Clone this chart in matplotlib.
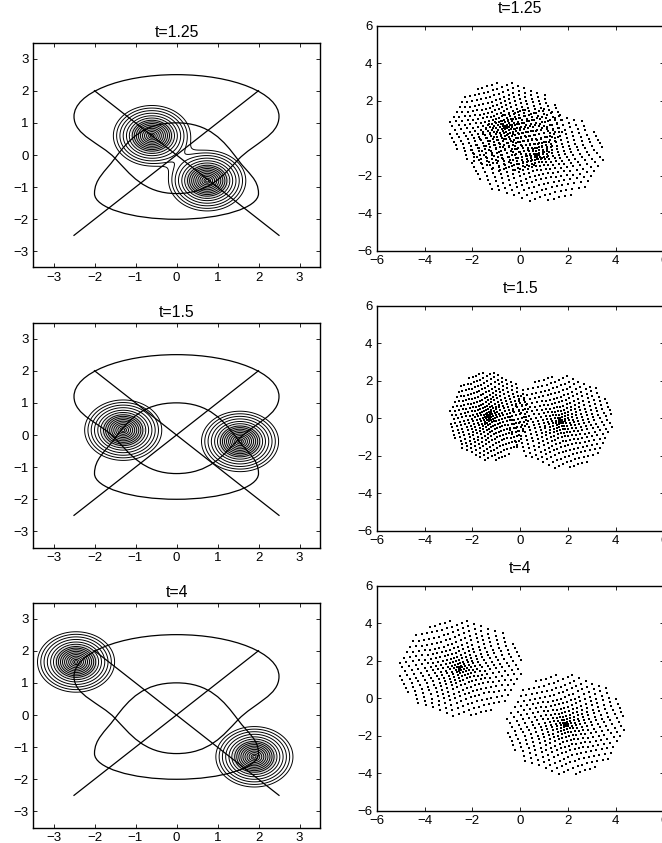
import numpy as np
import matplotlib.pyplot as plt
from matplotlib.path import Path
from matplotlib.patches import PathPatch

plt.rcParams['font.family'] = ['Liberation Sans', 'DejaVu Sans']
plt.rcParams['font.size'] = 9.5

# ---- data ----
titles = ['t=1.25', 't=1.5', 't=4']

# centres of the two packets (left column)
blob1_centers = [(-0.6, 0.6), (-1.3, 0.15), (-2.45, 1.65)]
blob2_centers = [(0.75, -0.8), (1.55, -0.2), (1.9, -1.3)]
blob_width = 0.42
# radii of the open contour rings, the grey core and the dense inner rings
outer_radii = [0.94, 0.86, 0.78, 0.70, 0.62, 0.55]
inner_radii = [0.48, 0.43, 0.38, 0.33, 0.28, 0.23, 0.18, 0.13, 0.08, 0.04]
core_radius = 0.51

# straight paths
line_a_x = [-2.5, 2.0]
line_a_y = [-2.5, 2.0]
line_b_x = [-2.0, 2.5]
line_b_y = [2.0, -2.5]

# upper closed orbit (bezier vertices): top arc, right side, dip to (0,-1.2), left side
upper_orbit = [(-2.5, 1.2),
               (-2.5, 1.92), (-1.38, 2.5), (0.0, 2.5),
               (1.38, 2.5), (2.5, 1.92), (2.5, 1.2),
               (2.5, 0.6), (1.9, 0.38), (1.5, -0.15),
               (1.14, -0.63), (0.8, -1.2), (0.0, -1.2),
               (-0.8, -1.2), (-1.14, -0.58), (-1.5, -0.1),
               (-1.86, 0.38), (-2.5, 0.6), (-2.5, 1.2)]
# lower closed orbit: bottom arc, right side, hump to (0,1.0), left side
lower_orbit = [(-2.0, -1.2),
               (-2.0, -1.64), (-1.1, -2.0), (0.0, -2.0),
               (1.1, -2.0), (2.0, -1.64), (2.0, -1.2),
               (2.0, -0.75), (1.75, -0.58), (1.5, -0.15),
               (1.15, 0.45), (0.8, 1.0), (0.0, 1.0),
               (-0.8, 1.0), (-1.15, 0.5), (-1.5, -0.1),
               (-1.75, -0.53), (-2.0, -0.75), (-2.0, -1.2)]

# particle clouds (right column): centre x, centre y, x extent, y extent, swirl
cloud1 = [(-0.6, 0.6, 2.3, 2.3, 0.25), (-1.3, 0.1, 1.6, 2.3, 0.2), (-2.5, 1.6, 2.5, 2.5, 0.15)]
cloud2 = [(0.7, -0.9, 2.7, 2.4, -0.25), (1.7, -0.2, 2.1, 2.4, -0.2), (1.9, -1.4, 2.4, 2.6, -0.15)]


def packet(X, Y, c):
    return np.exp(-((X - c[0]) ** 2 + (Y - c[1]) ** 2) / (2 * blob_width ** 2))


def level(r):
    return np.exp(-np.asarray(r) ** 2 / (2 * blob_width ** 2))


def lattice_cloud(cx, cy, rx, ry, swirl, n=23):
    u = np.linspace(-1, 1, n)
    U, V = np.meshgrid(u, u)
    rho = np.hypot(U, V)
    keep = rho <= 1.02
    U, V, rho = U[keep], V[keep], rho[keep]
    ang = np.arctan2(V, U) + swirl * (1 - rho) + 0.35
    r = rho ** 1.4
    return cx + rx * r * np.cos(ang), cy + ry * r * np.sin(ang)


def bezier_path(verts):
    return Path(verts, [Path.MOVETO] + [Path.CURVE4] * (len(verts) - 1))


def style(ax):
    ax.tick_params(direction='in', top=True, right=True, length=3, width=0.6, pad=3)
    for s in ax.spines.values():
        s.set_linewidth(1.0)


fig = plt.figure(figsize=(6.62, 8.43), dpi=100)
W, H = 662.0, 843.0

g = np.linspace(-3.5, 3.5, 600)
X, Y = np.meshgrid(g, g)
levels = sorted(level(outer_radii + inner_radii))

for i in range(3):
    # left column
    top = 42.5 + 280 * i
    ax = fig.add_axes([33 / W, 1 - (top + 225) / H, 287 / W, 225 / H])
    Z = packet(X, Y, blob1_centers[i]) + packet(X, Y, blob2_centers[i])
    ax.contourf(X, Y, Z, levels=[level(core_radius), 10], colors=['0.86'])
    ax.contour(X, Y, Z, levels=levels, colors='k', linewidths=0.7)
    ax.plot(line_a_x, line_a_y, 'k-', lw=0.9)
    ax.plot(line_b_x, line_b_y, 'k-', lw=0.9)
    for orbit in (upper_orbit, lower_orbit):
        ax.add_patch(PathPatch(bezier_path(orbit), fill=False, ec='k', lw=0.9))
    ax.set_xlim(-3.5, 3.5)
    ax.set_ylim(-3.5, 3.5)
    ax.set_xticks(range(-3, 4))
    ax.set_yticks(range(-3, 4))
    ax.set_title(titles[i], pad=4)
    style(ax)

    # right column
    top = 25.7 + 280 * i
    ax = fig.add_axes([376.7 / W, 1 - (top + 225) / H, 287 / W, 225 / H])
    for cl in (cloud1[i], cloud2[i]):
        px, py = lattice_cloud(*cl)
        ax.scatter(px, py, s=1.0, marker='s', c='k', linewidths=0)
    ax.set_xlim(-6, 6)
    ax.set_ylim(-6, 6)
    ax.set_xticks(range(-6, 7, 2))
    ax.set_yticks(range(-6, 7, 2))
    ax.set_title(titles[i], pad=9)
    style(ax)

fig.savefig('out.png', dpi=100)
